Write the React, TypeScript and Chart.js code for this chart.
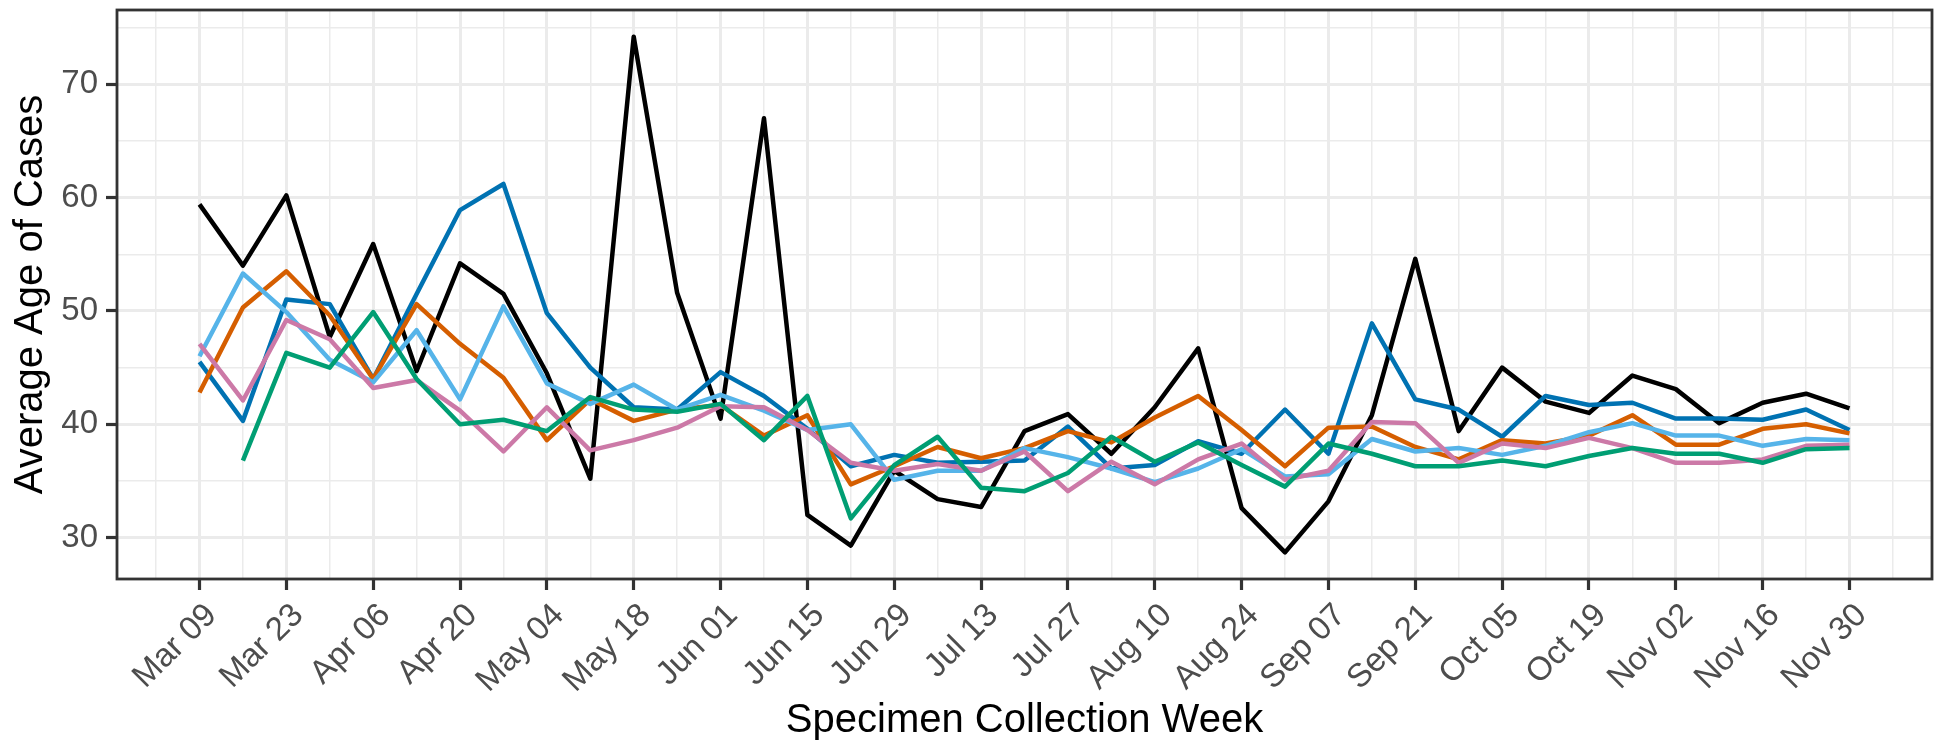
import React, { useEffect, useRef } from "react";
import { Chart, registerables } from "chart.js";

Chart.register(...registerables);

// ---- Data ----
const weekLabels = [
  "Mar 09", "Mar 16", "Mar 23", "Mar 30", "Apr 06", "Apr 13", "Apr 20", "Apr 27",
  "May 04", "May 11", "May 18", "May 25", "Jun 01", "Jun 08", "Jun 15", "Jun 22",
  "Jun 29", "Jul 06", "Jul 13", "Jul 20", "Jul 27", "Aug 03", "Aug 10", "Aug 17",
  "Aug 24", "Aug 31", "Sep 07", "Sep 14", "Sep 21", "Sep 28", "Oct 05", "Oct 12",
  "Oct 19", "Oct 26", "Nov 02", "Nov 09", "Nov 16", "Nov 23", "Nov 30",
];

const seriesBlack = [
  59.4, 54.0, 60.2, 47.7, 55.9, 44.7, 54.2, 51.5, 44.5, 35.2, 74.2, 51.6, 40.5,
  67.0, 32.0, 29.3, 35.9, 33.4, 32.7, 39.4, 40.9, 37.4, 41.5, 46.7, 32.6, 28.7,
  33.2, 40.8, 54.6, 39.4, 45.0, 42.0, 41.0, 44.3, 43.1, 40.1, 41.9, 42.7, 41.4,
];
const seriesBlue = [
  45.5, 40.3, 51.0, 50.6, 44.0, 51.5, 58.9, 61.2, 49.8, 45.0, 41.5, 41.3, 44.6,
  42.5, 39.6, 36.3, 37.3, 36.6, 36.7, 36.8, 39.8, 36.1, 36.4, 38.5, 37.4, 41.3,
  37.4, 48.9, 42.2, 41.3, 38.9, 42.5, 41.7, 41.9, 40.5, 40.5, 40.4, 41.3, 39.5,
];
const seriesOrange = [
  42.8, 50.3, 53.5, 49.6, 44.0, 50.6, 47.1, 44.1, 38.6, 42.2, 40.3, 41.3, 41.7,
  39.0, 40.8, 34.7, 36.3, 38.0, 37.0, 37.9, 39.4, 38.4, 40.6, 42.5, 39.5, 36.3,
  39.7, 39.8, 38.0, 36.9, 38.6, 38.3, 39.0, 40.8, 38.2, 38.2, 39.6, 40.0, 39.2,
];
const seriesSkyBlue = [
  46.0, 53.3, 49.9, 45.7, 43.7, 48.3, 42.2, 50.4, 43.6, 41.8, 43.5, 41.3, 42.6,
  41.2, 39.5, 40.0, 35.1, 35.9, 35.9, 37.9, 37.1, 36.1, 34.9, 36.1, 37.8, 35.4,
  35.6, 38.7, 37.6, 37.9, 37.3, 38.1, 39.3, 40.1, 39.0, 39.0, 38.1, 38.7, 38.6,
];
const seriesPink = [
  47.1, 42.1, 49.2, 47.5, 43.2, 43.9, 41.2, 37.6, 41.5, 37.7, 38.6, 39.7, 41.6,
  41.5, 39.5, 36.6, 35.9, 36.5, 35.9, 37.6, 34.1, 36.7, 34.7, 36.9, 38.3, 35.1,
  35.9, 40.2, 40.1, 36.6, 38.3, 37.9, 38.8, 37.9, 36.6, 36.6, 36.9, 38.1, 38.2,
];
const seriesGreen = [
  null, 36.8, 46.3, 45.0, 49.9, 44.0, 40.0, 40.4, 39.4, 42.4, 41.3, 41.1, 41.8,
  38.6, 42.5, 31.7, 36.4, 38.9, 34.4, 34.1, 35.7, 38.9, 36.7, 38.4, 36.4, 34.5,
  38.3, 37.4, 36.3, 36.3, 36.8, 36.3, 37.2, 37.9, 37.4, 37.4, 36.6, 37.8, 37.9,
];

const yMajorTicks = [30, 40, 50, 60, 70];
const yMinorTicks = [35, 45, 55, 65, 75];
const yMin = 26.35;
const yMax = 76.55;
const xMin = -1.9;
const xMax = 39.9;

const seriesList = [
  { data: seriesBlack, color: "#000000", order: 6 },
  { data: seriesBlue, color: "#0072B2", order: 5 },
  { data: seriesOrange, color: "#D55E00", order: 4 },
  { data: seriesSkyBlue, color: "#56B4E9", order: 3 },
  { data: seriesPink, color: "#CC79A7", order: 2 },
  { data: seriesGreen, color: "#009E73", order: 1 },
];

const FONT = "'Liberation Sans', Arial, Helvetica, sans-serif";

const borderPlugin = {
  id: "panelBorder",
  afterDatasetsDraw(chart: any) {
    const { ctx, chartArea } = chart;
    const { left, top, right, bottom } = chartArea;
    ctx.save();
    ctx.strokeStyle = "#333333";
    ctx.lineWidth = 2.8;
    ctx.strokeRect(left, top, right - left, bottom - top);
    ctx.restore();
  },
};

export default function App() {
  const canvasRef = useRef<HTMLCanvasElement | null>(null);

  useEffect(() => {
    if (!canvasRef.current) return;
    const xTickValues = [-1, ...weekLabels.map((_, i) => i), weekLabels.length];
    const yTickValues = [...yMajorTicks, ...yMinorTicks].sort((a, b) => a - b);
    const isMajorX = (v: number) => v >= 0 && v < weekLabels.length && v % 2 === 0;
    const isMajorY = (v: number) => yMajorTicks.includes(v);

    const chart = new Chart(canvasRef.current, {
      type: "line",
      data: {
        datasets: seriesList.map((s) => ({
          data: s.data.map((v, i) => ({ x: i, y: v })),
          borderColor: s.color,
          backgroundColor: s.color,
          borderWidth: 4.5,
          pointRadius: 0,
          pointHoverRadius: 0,
          tension: 0,
          fill: false,
          spanGaps: false,
          borderJoinStyle: "round",
          borderCapStyle: "butt",
          order: s.order,
        })),
      },
      options: {
        animation: false,
        responsive: false,
        maintainAspectRatio: false,
        devicePixelRatio: 1,
        layout: { padding: { left: 0, right: 12, top: 10, bottom: 0 } },
        plugins: {
          legend: { display: false },
          tooltip: { enabled: false },
        },
        scales: {
          x: {
            type: "linear",
            min: xMin,
            max: xMax,
            afterBuildTicks: (scale: any) => {
              scale.ticks = xTickValues.map((v) => ({ value: v }));
            },
            afterFit: (scale: any) => {
              scale.height = 168;
              scale.paddingLeft = 0;
              scale.paddingRight = 0;
              scale.paddingTop = 0;
              scale.paddingBottom = 0;
            },
            ticks: {
              autoSkip: false,
              minRotation: 45,
              maxRotation: 45,
              padding: 6,
              labelOffset: 12,
              color: "#4D4D4D",
              font: { family: FONT, size: 33 },
              callback: (v: any) => (isMajorX(v) ? weekLabels[v] : ""),
            },
            grid: {
              color: "#EBEBEB",
              lineWidth: (ctx: any) => (ctx.tick && isMajorX(ctx.tick.value) ? 3 : 1.5),
              drawTicks: true,
              tickLength: 11,
              tickWidth: 3.2,
              tickColor: (ctx: any) =>
                ctx.tick && isMajorX(ctx.tick.value) ? "#333333" : "rgba(0,0,0,0)",
            },
            border: { display: false },
            title: {
              display: true,
              text: "Specimen Collection Week",
              color: "#000000",
              font: { family: FONT, size: 40 },
              padding: { top: 0, bottom: 2 },
            },
          },
          y: {
            type: "linear",
            min: yMin,
            max: yMax,
            afterBuildTicks: (scale: any) => {
              scale.ticks = yTickValues.map((v) => ({ value: v }));
            },
            afterFit: (scale: any) => {
              scale.width = 117;
              scale.paddingTop = 0;
              scale.paddingBottom = 0;
              scale.paddingLeft = 0;
              scale.paddingRight = 0;
            },
            ticks: {
              padding: 8,
              color: "#4D4D4D",
              font: { family: FONT, size: 33 },
              callback: (v: any) => (isMajorY(v) ? String(v) : ""),
            },
            grid: {
              color: "#EBEBEB",
              lineWidth: (ctx: any) => (ctx.tick && isMajorY(ctx.tick.value) ? 3 : 1.5),
              drawTicks: true,
              tickLength: 11,
              tickWidth: 3.2,
              tickColor: (ctx: any) =>
                ctx.tick && isMajorY(ctx.tick.value) ? "#333333" : "rgba(0,0,0,0)",
            },
            border: { display: false },
            title: {
              display: true,
              text: "Average Age of Cases",
              color: "#000000",
              font: { family: FONT, size: 40 },
              padding: { top: 7, bottom: 0 },
            },
          },
        },
      },
      plugins: [borderPlugin],
    } as any);

    return () => chart.destroy();
  }, []);

  return (
    <div style={{ position: "absolute", left: 0, top: 0, width: 1944, height: 747, background: "#ffffff" }}>
      <canvas ref={canvasRef} width={1944} height={747} style={{ display: "block", width: 1944, height: 747 }} />
    </div>
  );
}
